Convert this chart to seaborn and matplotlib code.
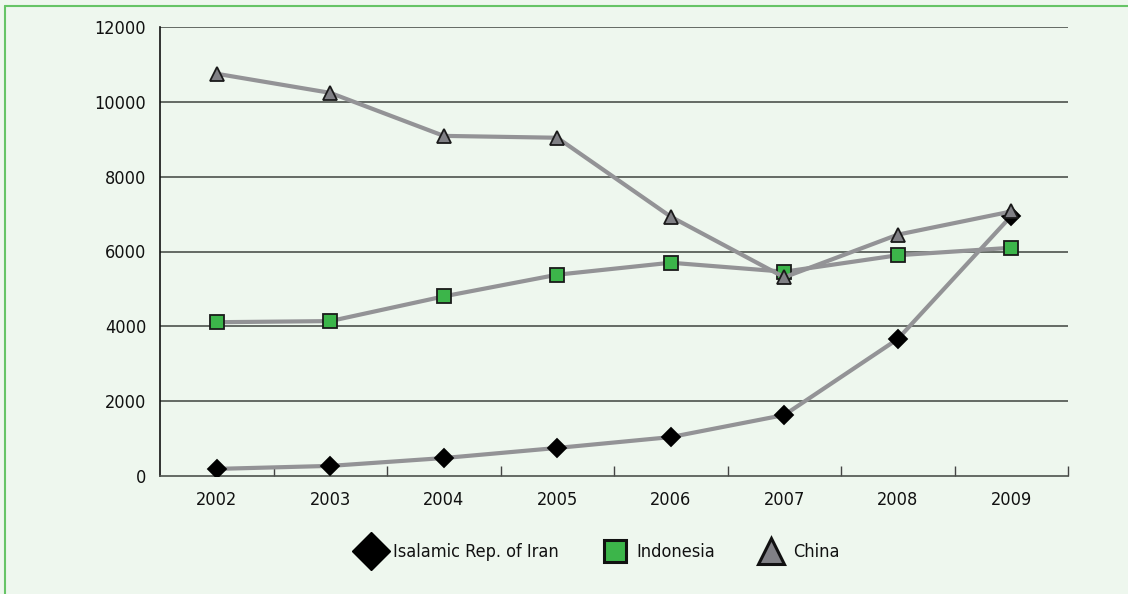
import matplotlib
matplotlib.use("Agg")
import matplotlib.pyplot as plt
from matplotlib.lines import Line2D
import seaborn as sns

years = [2002, 2003, 2004, 2005, 2006, 2007, 2008, 2009]
iran = [190, 270, 480, 750, 1040, 1630, 3660, 6950]
indonesia = [4110, 4140, 4800, 5380, 5700, 5460, 5900, 6100]
china = [10750, 10240, 9090, 9040, 6930, 5310, 6450, 7070]
series_names = ["Isalamic Rep. of Iran", "Indonesia", "China"]
y_ticks = [0, 2000, 4000, 6000, 8000, 10000, 12000]

BG = "#eef7ee"
LINE = "#939396"

sns.set_theme(style="white")
plt.rcParams["font.family"] = ["DejaVu Sans"]
plt.rcParams["font.stretch"] = "condensed"

fig = plt.figure(figsize=(11.28, 5.94), dpi=100, facecolor=BG)
ax = fig.add_axes([160 / 1128, (594 - 476) / 594, (1068 - 160) / 1128, (476 - 27) / 594])
ax.set_facecolor(BG)

styles = [
    (iran, "D", "black", "black", 9),
    (indonesia, "s", "#3cb54a", "#1a1a1a", 10),
    (china, "^", "#808085", "#1a1a1a", 10),
]
for vals, mk, fc, ec, ms in styles:
    sns.lineplot(x=years, y=vals, ax=ax, color=LINE, linewidth=3.0,
                 marker=mk, markersize=ms, markerfacecolor=fc,
                 markeredgecolor=ec, markeredgewidth=1.3, legend=False, zorder=3)

ax.set_xlim(2001.5, 2009.5)
ax.set_ylim(0, 12000)
ax.set_yticks(y_ticks)
ax.set_yticklabels([str(v) for v in y_ticks])
ax.set_xticks(years)
ax.set_xticklabels([str(y) for y in years])
ax.set_xticks([y + 0.5 for y in years], minor=True)
ax.tick_params(axis="x", which="major", length=0, pad=11, labelsize=13, colors="#111111")
ax.tick_params(axis="x", which="minor", direction="in", length=7, width=1, color="#444444", bottom=True)
ax.tick_params(axis="y", length=0, pad=10, labelsize=13, colors="#111111")
ax.set_xlabel("")
ax.set_ylabel("")

for v in y_ticks[1:]:
    ax.axhline(v, color="#4d524d", linewidth=1.2, zorder=1)

for s in ["top", "right"]:
    ax.spines[s].set_visible(False)
ax.spines["left"].set_color("#111111")
ax.spines["left"].set_linewidth(1.2)
ax.spines["bottom"].set_color("#4d524d")
ax.spines["bottom"].set_linewidth(1.2)

handles = [
    Line2D([], [], linestyle="none", marker="D", markersize=19, markerfacecolor="black",
           markeredgecolor="black", markeredgewidth=1),
    Line2D([], [], linestyle="none", marker="s", markersize=16, markerfacecolor="#3cb54a",
           markeredgecolor="#111111", markeredgewidth=2.2),
    Line2D([], [], linestyle="none", marker="^", markersize=19, markerfacecolor="#808085",
           markeredgecolor="#111111", markeredgewidth=2.2),
]
leg = fig.legend(handles, series_names, loc="center", bbox_to_anchor=(598 / 1128, 1 - 552 / 594),
                 ncol=3, frameon=False, fontsize=13, handletextpad=0.4, columnspacing=2.3,
                 handlelength=1.6)
for t in leg.get_texts():
    t.set_color("#111111")

# green frame (top and left edges)
fig.add_artist(Line2D([5 / 1128, 5 / 1128], [0, 1 - 6 / 594], transform=fig.transFigure,
                      color="#66c466", linewidth=1.5))
fig.add_artist(Line2D([5 / 1128, 1], [1 - 6 / 594, 1 - 6 / 594], transform=fig.transFigure,
                      color="#66c466", linewidth=1.5))

fig.savefig("out.png", dpi=100, facecolor=BG)
